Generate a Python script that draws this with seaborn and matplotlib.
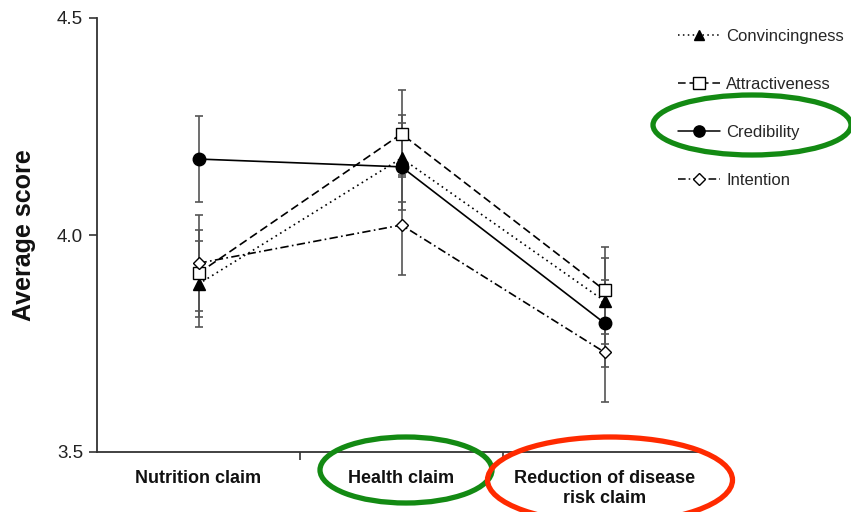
import matplotlib
matplotlib.use("Agg")
import matplotlib.pyplot as plt
from matplotlib.patches import Ellipse
from matplotlib.lines import Line2D
import numpy as np
import pandas as pd
import seaborn as sns

# Claim types on the x axis
categories = ["Nutrition claim", "Health claim", "Reduction of disease\nrisk claim"]

# Mean scores per measure
convincingness = [3.887, 4.177, 3.848]
attractiveness = [3.912, 4.233, 3.873]
credibility = [4.175, 4.157, 3.797]
intention = [3.935, 4.023, 3.730]

# Error half-widths per measure
convincingness_err = [0.100, 0.100, 0.100]
attractiveness_err = [0.100, 0.100, 0.100]
credibility_err = [0.100, 0.100, 0.100]
intention_err = [0.110, 0.115, 0.115]

measures = ["Convincingness", "Attractiveness", "Credibility", "Intention"]
means = [convincingness, attractiveness, credibility, intention]
errors = [convincingness_err, attractiveness_err, credibility_err, intention_err]

yticks = [3.5, 4.0, 4.5]
ytick_labels = ["3.5", "4.0", "4.5"]

rows = []
for m, vals, errs in zip(measures, means, errors):
    for i, (v, e) in enumerate(zip(vals, errs)):
        rows.append({"measure": m, "claim": i, "score": v, "err": e})
df = pd.DataFrame(rows)

sns.set_theme(style="white")
plt.rcParams["font.family"] = ["Liberation Sans", "DejaVu Sans"]

fig = plt.figure(figsize=(8.51, 5.12), dpi=100)
ax = fig.add_axes([97 / 851, 1 - 452 / 512, 609 / 851, 434 / 512])

dash_styles = {
    "Convincingness": (1, 2.2),
    "Attractiveness": (5, 2.5),
    "Credibility": "",
    "Intention": (5, 2, 1, 2),
}
marker_styles = {
    "Convincingness": "^",
    "Attractiveness": "s",
    "Credibility": "o",
    "Intention": "D",
}
face = {"Convincingness": "black", "Attractiveness": "white",
        "Credibility": "black", "Intention": "white"}
msize = {"Convincingness": 8, "Attractiveness": 9,
         "Credibility": 9, "Intention": 6.5}

# error bars underneath the lines
for m in measures:
    sub = df[df["measure"] == m]
    ax.errorbar(sub["claim"], sub["score"], yerr=sub["err"], fmt="none",
                ecolor="#555555", elinewidth=1.2, capsize=3, capthick=1.2,
                zorder=1)

sns.lineplot(data=df, x="claim", y="score", hue="measure", style="measure",
             palette=["black"] * 4, dashes=dash_styles, markers=marker_styles,
             linewidth=1.2, ax=ax, legend=False, zorder=2,
             markersize=0)

# markers with individual fills
for m in measures:
    sub = df[df["measure"] == m]
    ax.plot(sub["claim"], sub["score"], linestyle="none",
            marker=marker_styles[m], markersize=msize[m],
            markerfacecolor=face[m], markeredgecolor="black",
            markeredgewidth=1.0, zorder=3)

ax.set_xlim(-0.5, 2.5)
ax.set_ylim(3.5, 4.5)
ax.set_yticks(yticks)
ax.set_yticklabels(ytick_labels, fontsize=13.5, color="#222222")
ax.set_xticks([0, 1, 2])
ax.set_xticklabels(categories, fontsize=13, fontweight="bold", color="#111111")
ax.set_xticks([0.5, 1.5], minor=True)
ax.tick_params(axis="x", which="major", length=0, pad=13)
ax.tick_params(axis="x", which="minor", length=6, width=1.2, color="#333333",
               direction="out", bottom=True)
ax.tick_params(axis="y", length=6, width=1.2, color="#333333",
               direction="out", left=True, pad=4)
ax.set_xlabel("")
ax.set_ylabel("Average score", fontsize=18, fontweight="bold", labelpad=15,
              color="#111111")
for s in ["top", "right"]:
    ax.spines[s].set_visible(False)
for s in ["left", "bottom"]:
    ax.spines[s].set_color("#333333")
    ax.spines[s].set_linewidth(1.3)

# legend
handles = []
for m in measures:
    ls = dash_styles[m]
    h = Line2D([0], [0], color="black", linewidth=1.1,
               linestyle=(0, ls) if ls else "-",
               marker=marker_styles[m], markersize=msize[m] * 0.9,
               markerfacecolor=face[m], markeredgecolor="black")
    handles.append(h)
fig.legend(handles, measures, loc="upper left",
           bbox_to_anchor=(678 / 851, 1 - 29 / 512), frameon=False,
           fontsize=12, handlelength=2.5, handletextpad=0.4,
           labelspacing=1.98, borderpad=0, borderaxespad=0)

# highlight rings
green = "#138a13"
red = "#ff2a00"
W, H = 851, 512
for (cx, cy, w, h, c) in [(406, 470, 172, 66, green),
                           (610, 480, 245, 86, red),
                           (752, 125, 198, 60, green)]:
    fig.patches.append(Ellipse((cx / W, 1 - cy / H), w / W, h / H,
                               transform=fig.transFigure, fill=False,
                               edgecolor=c, linewidth=3.8, zorder=10))

fig.savefig("out.png", dpi=100)
